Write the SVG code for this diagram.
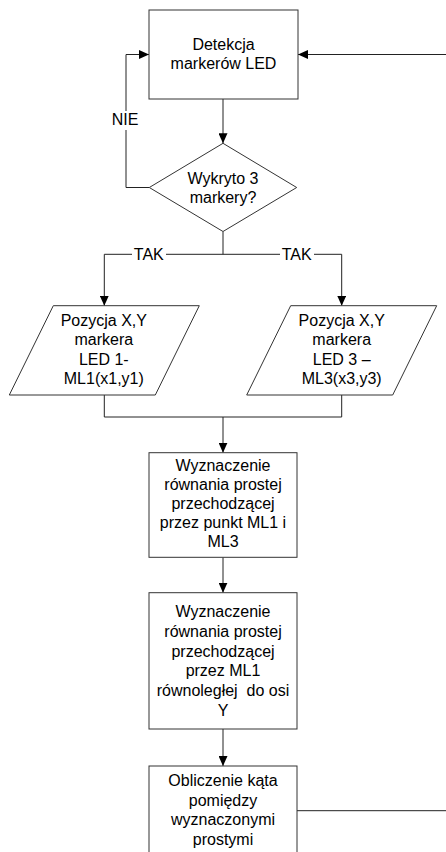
<svg xmlns="http://www.w3.org/2000/svg" width="446" height="852" viewBox="0 0 446 852">
<defs>
<style>
.shape{fill:#fff;stroke:#333;stroke-width:1}
.conn{fill:none;stroke:#222;stroke-width:1}
.t{font-family:"Liberation Sans",Arial,sans-serif;font-size:16px;fill:#000;text-anchor:middle}
.lblbg{fill:#fff;stroke:none}
</style>
<marker id="arr" markerUnits="userSpaceOnUse" viewBox="0 0 10 9" refX="10" refY="4.5" markerWidth="10" markerHeight="9" orient="auto">
<path d="M0,0 L10,4.5 L0,9 Z" fill="#000"/>
</marker>
</defs>
<rect width="446" height="852" fill="#fff"/>
<g id="connectors">
<path class="conn" d="M223,99 V143.3" marker-end="url(#arr)"/>
<path class="conn" d="M149.3,187.5 H126 V54.5 H149" marker-end="url(#arr)"/>
<path class="conn" d="M446,54.5 H298" marker-end="url(#arr)"/>
<path class="conn" d="M223,231.5 V254.3 H104.3 V305.7" marker-end="url(#arr)"/>
<path class="conn" d="M223,254.3 H341.7 V305.7" marker-end="url(#arr)"/>
<path class="conn" d="M104.3,395 V417 H341.7 V395"/>
<path class="conn" d="M223,417 V452.7" marker-end="url(#arr)"/>
<path class="conn" d="M223,557.3 V592.7" marker-end="url(#arr)"/>
<path class="conn" d="M223,729 V766" marker-end="url(#arr)"/>
<path class="conn" d="M297,810.7 H446"/>
<rect class="lblbg" x="111" y="111" width="28" height="19"/>
<text class="t" x="125" y="125">NIE</text>
<rect class="lblbg" x="132" y="246" width="34" height="16"/>
<text class="t" x="148.8" y="259.5">TAK</text>
<rect class="lblbg" x="280" y="246" width="34" height="16"/>
<text class="t" x="296.7" y="259.5">TAK</text>
</g>
<g id="detekcja">
<rect class="shape" x="149" y="10" width="149" height="89"/>
<text class="t" x="223.5" y="50">Detekcja</text>
<text class="t" x="223.5" y="69">markerów LED</text>
</g>
<g id="wykryto">
<polygon class="shape" points="223,143.3 296.7,187.5 223,231.5 149.3,187.5"/>
<text class="t" x="223" y="184">Wykryto 3</text>
<text class="t" x="223" y="203">markery?</text>
</g>
<g id="pozycja1">
<polygon class="shape" points="53.3,305.7 199.3,305.7 155.3,395 9.3,395"/>
<text class="t" x="103.8" y="326">Pozycja X,Y</text>
<text class="t" x="103.8" y="345.3">markera</text>
<text class="t" x="103.8" y="364.6">LED 1-</text>
<text class="t" x="103.8" y="384">ML1(x1,y1)</text>
</g>
<g id="pozycja3">
<polygon class="shape" points="290.7,305.7 436.7,305.7 392.7,395 246.7,395"/>
<text class="t" x="341.7" y="326">Pozycja X,Y</text>
<text class="t" x="341.7" y="345.3">markera</text>
<text class="t" x="341.7" y="364.6">LED 3 –</text>
<text class="t" x="341.7" y="384">ML3(x3,y3)</text>
</g>
<g id="prosta13">
<rect class="shape" x="149" y="452.7" width="148" height="104.6"/>
<text class="t" x="223" y="471">Wyznaczenie</text>
<text class="t" x="223" y="490">równania prostej</text>
<text class="t" x="223" y="509">przechodzącej</text>
<text class="t" x="223" y="528">przez punkt ML1 i</text>
<text class="t" x="223" y="547">ML3</text>
</g>
<g id="prostaY">
<rect class="shape" x="149" y="592.7" width="148" height="136.3"/>
<text class="t" x="223" y="617">Wyznaczenie</text>
<text class="t" x="223" y="636.8">równania prostej</text>
<text class="t" x="223" y="656.6">przechodzącej</text>
<text class="t" x="223" y="676.4">przez ML1</text>
<text class="t" x="223" y="696.2" style="white-space:pre">równoległej  do osi</text>
<text class="t" x="223" y="716">Y</text>
</g>
<g id="kat">
<rect class="shape" x="149" y="766" width="148" height="89.4"/>
<text class="t" x="223" y="786">Obliczenie kąta</text>
<text class="t" x="223" y="805.5">pomiędzy</text>
<text class="t" x="223" y="825">wyznaczonymi</text>
<text class="t" x="223" y="844.5">prostymi</text>
</g>
</svg>
